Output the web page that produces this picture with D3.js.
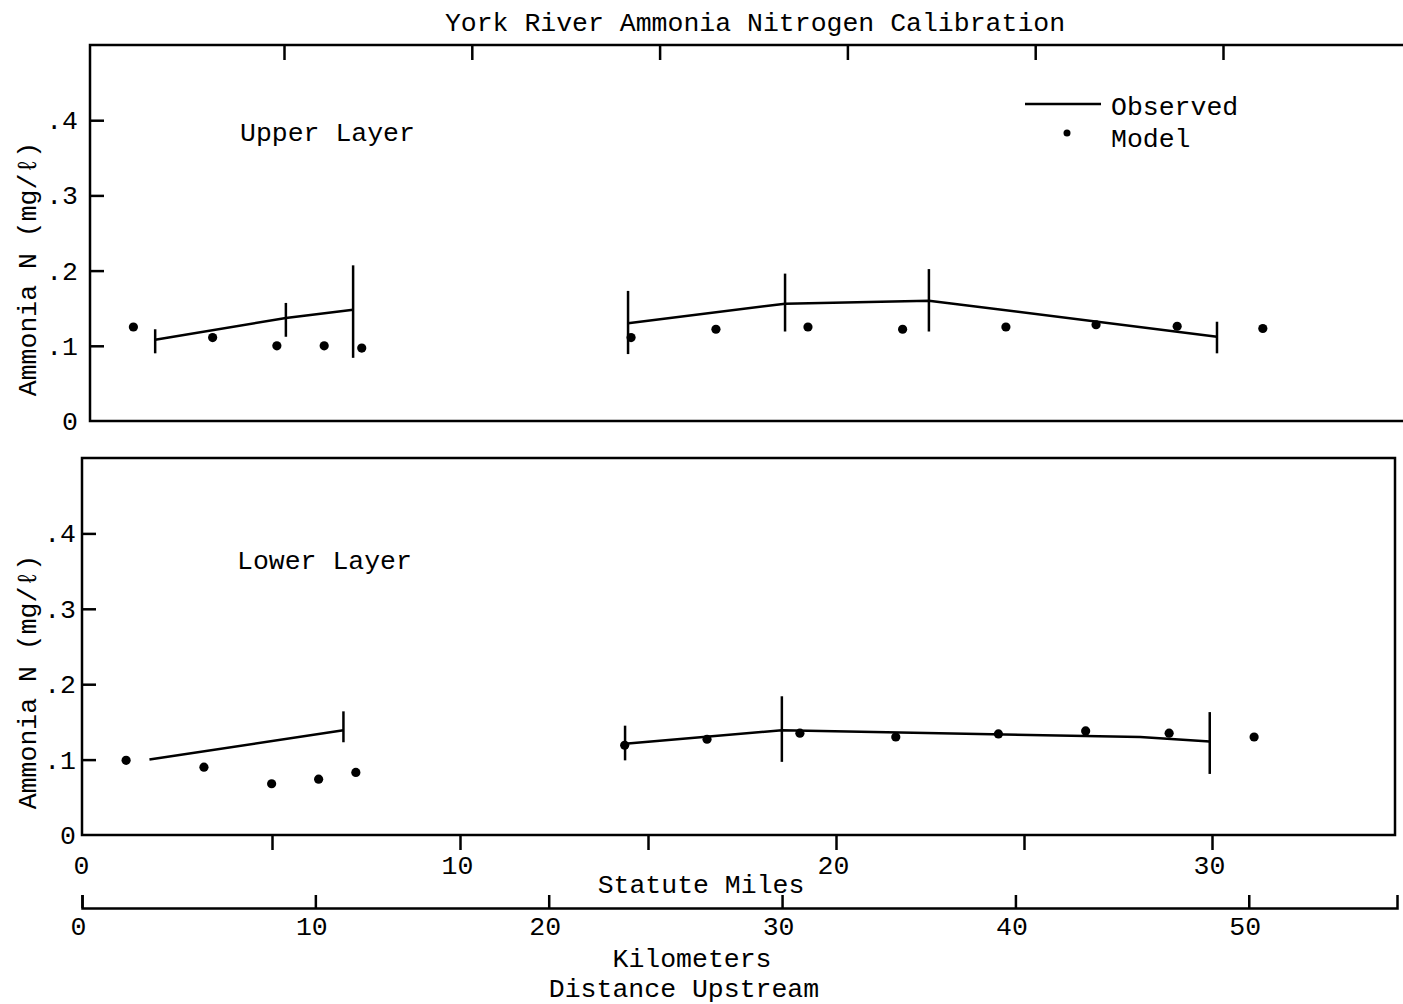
<!DOCTYPE html>
<html><head><meta charset="utf-8">
<script src="https://cdn.jsdelivr.net/npm/d3@7/dist/d3.min.js"></script>
<style>
body{margin:0;background:#fff}
svg text{font-family:"Liberation Mono",monospace;fill:#000}
</style>
</head><body>
<svg id="c" width="1403" height="1004"></svg>
<script>
// ---------- data (statute miles upstream, ammonia N mg/l) ----------
const upperObsMiles  = [1.57, 5.05, 6.84, 14.16, 18.34, 22.17, 29.84];
const upperObsValues = [0.108, 0.137, 0.148, 0.130, 0.156, 0.160, 0.112];
const upperObsLow    = [0.090, 0.112, 0.084, 0.089, 0.119, 0.119, 0.090];
const upperObsHigh   = [0.122, 0.157, 0.207, 0.173, 0.196, 0.202, 0.132];
const upperObsSegment= [0, 0, 0, 1, 1, 1, 1];

const upperModelMiles  = [0.99, 3.10, 4.81, 6.07, 7.07, 14.24, 16.50, 18.95, 21.47, 24.22, 26.62, 28.78, 31.06];
const upperModelValues = [0.125, 0.111, 0.100, 0.100, 0.097, 0.111, 0.122, 0.125, 0.122, 0.125, 0.128, 0.126, 0.123];

const lowerObsMiles  = [1.74, 6.90, 14.39, 18.56, 28.09, 29.94];
const lowerObsValues = [0.100, 0.139, 0.121, 0.139, 0.130, 0.124];
const lowerObsLow    = [null, 0.123, 0.099, 0.097, null, 0.081];
const lowerObsHigh   = [null, 0.164, 0.145, 0.184, null, 0.163];
const lowerObsSegment= [0, 0, 1, 1, 1, 1];

const lowerModelMiles  = [1.12, 3.19, 4.99, 6.24, 7.23, 14.38, 16.57, 19.04, 21.59, 24.32, 26.64, 28.86, 31.12];
const lowerModelValues = [0.099, 0.090, 0.068, 0.074, 0.083, 0.119, 0.127, 0.135, 0.130, 0.134, 0.138, 0.135, 0.130];

const yTickValues   = [0, 0.1, 0.2, 0.3, 0.4];
const mileTickValues= [5, 10, 15, 20, 25, 30];
const mileLabelValues=[0, 10, 20, 30];
const kmTickValues  = [0, 10, 20, 30, 40, 50];

const titleText = "York River Ammonia Nitrogen Calibration";
const yTitle = "Ammonia N (mg/\u2113)";

// ---------- drawing ----------
const svg = d3.select("#c");
const FS = 26.5;
const SW = 2.5;

const xU = d3.scaleLinear().domain([0, 30]).range([96.2, 1223]);
const xL = d3.scaleLinear().domain([0, 30]).range([84, 1212]);
const xKm = d3.scaleLinear().domain([0, 50]).range([84, 1249]);
const yU = d3.scaleLinear().domain([0, 0.5]).range([421, 45]);
const yL = d3.scaleLinear().domain([0, 0.5]).range([835, 458]);

function styleAxis(g){
  g.attr("font-family", "Liberation Mono, monospace").attr("font-size", FS);
  g.selectAll("line").attr("stroke", "#000").attr("stroke-width", SW);
  g.selectAll("path").attr("stroke", "#000").attr("stroke-width", SW);
  g.selectAll("text").attr("fill", "#000");
}
const fmtY = d => d === 0 ? "0" : "." + Math.round(d * 10);

// panel frames
svg.append("rect").attr("x", 90).attr("y", 45).attr("width", 1330).attr("height", 376)
  .attr("fill", "none").attr("stroke", "#000").attr("stroke-width", SW);
svg.append("rect").attr("x", 82).attr("y", 458).attr("width", 1313).attr("height", 377)
  .attr("fill", "none").attr("stroke", "#000").attr("stroke-width", SW);

// y axes
function yAxis(scale, x, pad){
  const g = svg.append("g").attr("transform", `translate(${x},0)`)
    .call(d3.axisLeft(scale).tickValues(yTickValues).tickSize(-14).tickPadding(pad).tickFormat(fmtY));
  g.select(".domain").remove();
  g.selectAll(".tick").filter(d => d === 0).select("line").remove();
  styleAxis(g);
  return g;
}
yAxis(yU, 90, 12);
yAxis(yL, 82, 6);

// upper top ticks (pointing into panel)
{
  const g = svg.append("g").attr("transform", "translate(0,45)")
    .call(d3.axisBottom(xU).tickValues(mileTickValues).tickSize(15).tickFormat(""));
  g.select(".domain").remove();
  styleAxis(g);
}
// lower mile axis
{
  const g = svg.append("g").attr("transform", "translate(0,835)")
    .call(d3.axisBottom(xL).tickValues(mileTickValues).tickSize(15).tickFormat(""));
  g.select(".domain").remove();
  styleAxis(g);
  const g2 = svg.append("g").attr("transform", "translate(0,835)")
    .call(d3.axisBottom(xL).tickValues(mileLabelValues).tickSize(0).tickPadding(20).tickFormat(d3.format("d")));
  g2.select(".domain").remove();
  g2.selectAll("text").attr("dx", -3);
  styleAxis(g2);
}
// km axis
{
  const kmScale = xKm.copy().domain([0, xKm.invert(1397)]).range([xKm(0) - 2, 1397]);
  const g = svg.append("g").attr("transform", "translate(0,908)")
    .call(d3.axisTop(kmScale).tickValues(kmTickValues).tickSize(13).tickSizeOuter(13).tickFormat(""));
  g.select(".domain").attr("fill", "none");
  styleAxis(g);
  const g2 = svg.append("g").attr("transform", "translate(0,908)")
    .call(d3.axisBottom(kmScale).tickValues(kmTickValues).tickSize(0).tickPadding(8).tickFormat(d3.format("d")));
  g2.select(".domain").remove();
  g2.selectAll("text").attr("dx", -4);
  styleAxis(g2);
}

// observed lines + range bars
function drawObserved(x, y, miles, vals, lows, highs, segs){
  const pts = miles.map((m, i) => ({m, v: vals[i], lo: lows[i], hi: highs[i], s: segs[i]}));
  const groups = d3.groups(pts, d => d.s);
  const line = d3.line().x(d => x(d.m)).y(d => y(d.v));
  groups.forEach(([, arr]) => {
    svg.append("path").attr("d", line(arr)).attr("fill", "none")
      .attr("stroke", "#000").attr("stroke-width", SW).attr("stroke-linejoin", "round");
  });
  svg.append("g").selectAll("line").data(pts.filter(d => d.lo != null)).join("line")
    .attr("x1", d => x(d.m)).attr("x2", d => x(d.m))
    .attr("y1", d => y(d.lo)).attr("y2", d => y(d.hi))
    .attr("stroke", "#000").attr("stroke-width", SW);
}
function drawModel(x, y, miles, vals){
  svg.append("g").selectAll("circle").data(miles.map((m, i) => [m, vals[i]])).join("circle")
    .attr("cx", d => x(d[0])).attr("cy", d => y(d[1])).attr("r", 4.6).attr("fill", "#000");
}
drawObserved(xU, yU, upperObsMiles, upperObsValues, upperObsLow, upperObsHigh, upperObsSegment);
drawModel(xU, yU, upperModelMiles, upperModelValues);
drawObserved(xL, yL, lowerObsMiles, lowerObsValues, lowerObsLow, lowerObsHigh, lowerObsSegment);
drawModel(xL, yL, lowerModelMiles, lowerModelValues);

// texts
function txt(x, y, s, anchor){
  return svg.append("text").attr("x", x).attr("y", y).attr("font-size", FS)
    .attr("text-anchor", anchor || "start").text(s);
}
txt(755, 31, titleText, "middle");
txt(240, 141, "Upper Layer");
txt(237, 569, "Lower Layer");
txt(1111, 115, "Observed");
txt(1111, 147, "Model");
svg.append("line").attr("x1", 1025).attr("x2", 1101).attr("y1", 104).attr("y2", 104)
  .attr("stroke", "#000").attr("stroke-width", SW);
svg.append("circle").attr("cx", 1067).attr("cy", 133).attr("r", 3.5).attr("fill", "#000");

txt(701, 893, "Statute Miles", "middle");
txt(692, 967, "Kilometers", "middle");
txt(684, 997, "Distance Upstream", "middle");

[[269], [682]].forEach(([cy]) => {
  svg.append("text").attr("transform", `translate(36,${cy}) rotate(-90)`)
    .attr("font-size", FS).attr("text-anchor", "middle").text(yTitle);
});
</script>
</body></html>
